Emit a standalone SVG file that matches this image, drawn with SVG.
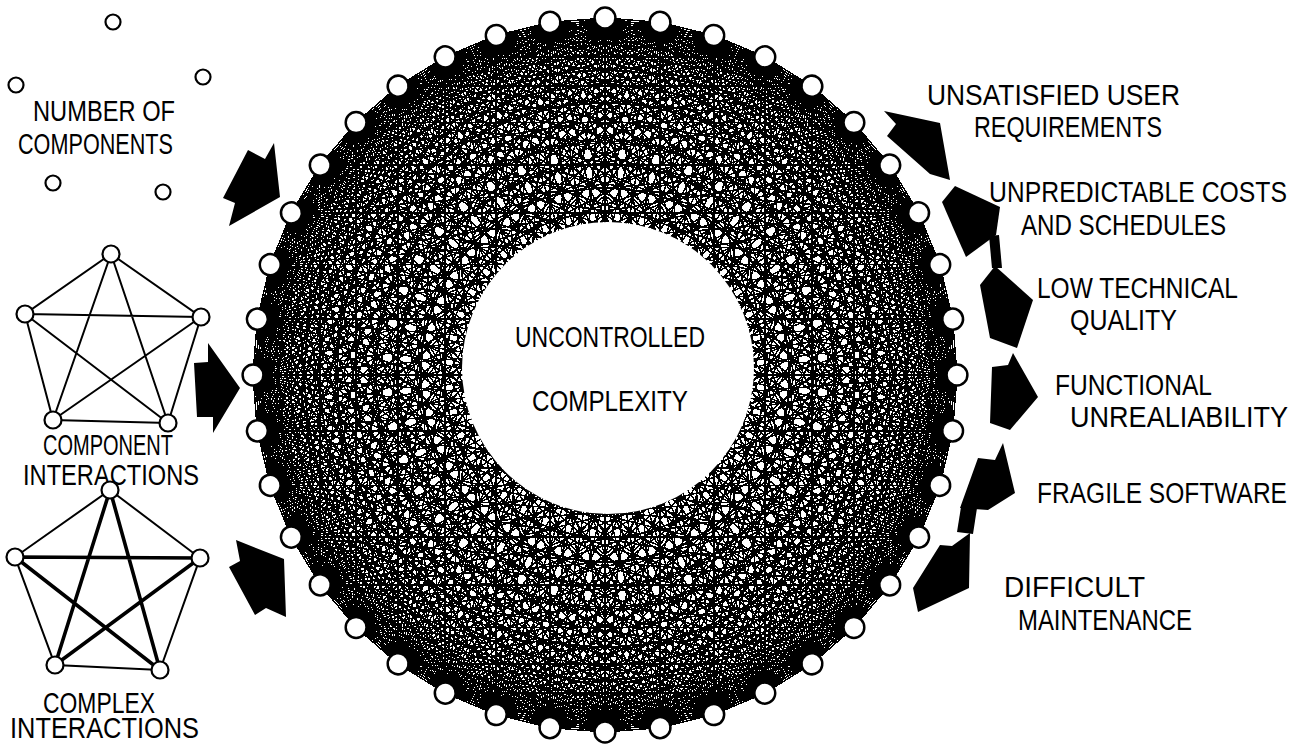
<svg xmlns="http://www.w3.org/2000/svg" width="1300" height="751" viewBox="0 0 1300 751">
<style>
.t{font-family:"Liberation Sans",Arial,sans-serif;font-size:24px;fill:#000}
.nd{fill:#fff;stroke:#000;stroke-width:2.2}
.rn{fill:#fff;stroke:#000;stroke-width:2.5}
.ed{stroke:#000;stroke-width:2;fill:none}
.edb{stroke:#000;stroke-width:3.6;fill:none}
.ar{fill:#000}
.mesh{stroke:#000;stroke-width:1.5;fill:none}
</style>
<defs>
<path id="fan" d="M0-355L55.5-350.6M0-355L109.7-337.6M0-355L161.2-316.3M0-355L208.7-287.2M0-355L251-251M0-355L287.2-208.7M0-355L316.3-161.2M0-355L337.6-109.7M0-355L350.6-55.5M0-355L355 0M0-355L350.6 55.5M0-355L337.6 109.7M0-355L316.3 161.2M0-355L287.2 208.7M0-355L251 251M0-355L208.7 287.2M0-355L161.2 316.3M0-355L109.7 337.6M0-355L55.5 350.6M0-355L0 355"/>
<circle id="rnode" cx="0" cy="-355" r="10.5"/>
</defs>
<rect width="1300" height="751" fill="#fff"/>

<g id="node-uncontrolled-complexity">
<g class="mesh" shape-rendering="crispEdges" transform="translate(605,375) scale(0.9915,1.0056)">
<use href="#fan"/><use href="#fan" transform="rotate(9)"/><use href="#fan" transform="rotate(18)"/><use href="#fan" transform="rotate(27)"/><use href="#fan" transform="rotate(36)"/><use href="#fan" transform="rotate(45)"/><use href="#fan" transform="rotate(54)"/><use href="#fan" transform="rotate(63)"/><use href="#fan" transform="rotate(72)"/><use href="#fan" transform="rotate(81)"/>
<use href="#fan" transform="rotate(90)"/><use href="#fan" transform="rotate(99)"/><use href="#fan" transform="rotate(108)"/><use href="#fan" transform="rotate(117)"/><use href="#fan" transform="rotate(126)"/><use href="#fan" transform="rotate(135)"/><use href="#fan" transform="rotate(144)"/><use href="#fan" transform="rotate(153)"/><use href="#fan" transform="rotate(162)"/><use href="#fan" transform="rotate(171)"/>
<use href="#fan" transform="rotate(180)"/><use href="#fan" transform="rotate(189)"/><use href="#fan" transform="rotate(198)"/><use href="#fan" transform="rotate(207)"/><use href="#fan" transform="rotate(216)"/><use href="#fan" transform="rotate(225)"/><use href="#fan" transform="rotate(234)"/><use href="#fan" transform="rotate(243)"/><use href="#fan" transform="rotate(252)"/><use href="#fan" transform="rotate(261)"/>
<use href="#fan" transform="rotate(270)"/><use href="#fan" transform="rotate(279)"/><use href="#fan" transform="rotate(288)"/><use href="#fan" transform="rotate(297)"/><use href="#fan" transform="rotate(306)"/><use href="#fan" transform="rotate(315)"/><use href="#fan" transform="rotate(324)"/><use href="#fan" transform="rotate(333)"/><use href="#fan" transform="rotate(342)"/><use href="#fan" transform="rotate(351)"/>
</g>
<circle cx="608" cy="368" r="146" fill="#fff"/>
<g class="rn" transform="translate(605,375) scale(0.9915,1.0056)">
<use href="#rnode"/><use href="#rnode" transform="rotate(9)"/><use href="#rnode" transform="rotate(18)"/><use href="#rnode" transform="rotate(27)"/><use href="#rnode" transform="rotate(36)"/><use href="#rnode" transform="rotate(45)"/><use href="#rnode" transform="rotate(54)"/><use href="#rnode" transform="rotate(63)"/><use href="#rnode" transform="rotate(72)"/><use href="#rnode" transform="rotate(81)"/>
<use href="#rnode" transform="rotate(90)"/><use href="#rnode" transform="rotate(99)"/><use href="#rnode" transform="rotate(108)"/><use href="#rnode" transform="rotate(117)"/><use href="#rnode" transform="rotate(126)"/><use href="#rnode" transform="rotate(135)"/><use href="#rnode" transform="rotate(144)"/><use href="#rnode" transform="rotate(153)"/><use href="#rnode" transform="rotate(162)"/><use href="#rnode" transform="rotate(171)"/>
<use href="#rnode" transform="rotate(180)"/><use href="#rnode" transform="rotate(189)"/><use href="#rnode" transform="rotate(198)"/><use href="#rnode" transform="rotate(207)"/><use href="#rnode" transform="rotate(216)"/><use href="#rnode" transform="rotate(225)"/><use href="#rnode" transform="rotate(234)"/><use href="#rnode" transform="rotate(243)"/><use href="#rnode" transform="rotate(252)"/><use href="#rnode" transform="rotate(261)"/>
<use href="#rnode" transform="rotate(270)"/><use href="#rnode" transform="rotate(279)"/><use href="#rnode" transform="rotate(288)"/><use href="#rnode" transform="rotate(297)"/><use href="#rnode" transform="rotate(306)"/><use href="#rnode" transform="rotate(315)"/><use href="#rnode" transform="rotate(324)"/><use href="#rnode" transform="rotate(333)"/><use href="#rnode" transform="rotate(342)"/><use href="#rnode" transform="rotate(351)"/>
</g>
<text class="t" transform="translate(515,347) scale(1,1.2)" textLength="190" lengthAdjust="spacingAndGlyphs">UNCONTROLLED</text>
<text class="t" transform="translate(532,411) scale(1,1.2)" textLength="156" lengthAdjust="spacingAndGlyphs">COMPLEXITY</text>
</g>

<g id="node-number-of-components">
<circle class="nd" cx="113" cy="22" r="7.5"/>
<circle class="nd" cx="203" cy="77" r="7.5"/>
<circle class="nd" cx="163" cy="192" r="7.5"/>
<circle class="nd" cx="53" cy="183" r="7.5"/>
<circle class="nd" cx="16" cy="85" r="7.5"/>
<text class="t" transform="translate(33,121) scale(1,1.25)" textLength="142" lengthAdjust="spacingAndGlyphs">NUMBER OF</text>
<text class="t" transform="translate(18,154) scale(1,1.25)" textLength="155" lengthAdjust="spacingAndGlyphs">COMPONENTS</text>
</g>

<g id="node-component-interactions">
<path class="ed" d="M111 254L201 317L168 423L53 420L25 314ZM111 254L168 423M111 254L53 420M201 317L53 420M201 317L25 314M168 423L25 314"/>
<circle class="nd" cx="111" cy="254" r="8.5"/>
<circle class="nd" cx="201" cy="317" r="8.5"/>
<circle class="nd" cx="168" cy="423" r="8.5"/>
<circle class="nd" cx="53" cy="420" r="8.5"/>
<circle class="nd" cx="25" cy="314" r="8.5"/>
<text class="t" transform="translate(43,455) scale(1,1.2)" textLength="130" lengthAdjust="spacingAndGlyphs">COMPONENT</text>
<text class="t" transform="translate(23,485) scale(1,1.2)" textLength="176" lengthAdjust="spacingAndGlyphs">INTERACTIONS</text>
</g>

<g id="node-complex-interactions">
<path class="ed" d="M110 490L200 558L160 670L55 665L15 557Z"/>
<path class="edb" d="M110 490L160 670M110 490L55 665M200 558L55 665M200 558L15 557M160 670L15 557"/>
<circle class="nd" cx="110" cy="490" r="8.5"/>
<circle class="nd" cx="200" cy="558" r="8.5"/>
<circle class="nd" cx="160" cy="670" r="8.5"/>
<circle class="nd" cx="55" cy="665" r="8.5"/>
<circle class="nd" cx="15" cy="557" r="8.5"/>
<text class="t" transform="translate(43,713) scale(1,1.2)" textLength="112" lengthAdjust="spacingAndGlyphs">COMPLEX</text>
<text class="t" transform="translate(10,738) scale(1,1.2)" textLength="189" lengthAdjust="spacingAndGlyphs">INTERACTIONS</text>
</g>

<g id="node-unsatisfied-requirements">
<text class="t" transform="translate(927,105) scale(1,1.2)" textLength="253" lengthAdjust="spacingAndGlyphs">UNSATISFIED USER</text>
<text class="t" transform="translate(974,137) scale(1,1.2)" textLength="188" lengthAdjust="spacingAndGlyphs">REQUIREMENTS</text>
</g>
<g id="node-unpredictable-costs">
<text class="t" transform="translate(989,202) scale(1,1.2)" textLength="298" lengthAdjust="spacingAndGlyphs">UNPREDICTABLE COSTS</text>
<text class="t" transform="translate(1021,235) scale(1,1.2)" textLength="205" lengthAdjust="spacingAndGlyphs">AND SCHEDULES</text>
</g>
<g id="node-low-quality">
<text class="t" transform="translate(1037,298) scale(1,1.2)" textLength="201" lengthAdjust="spacingAndGlyphs">LOW TECHNICAL</text>
<text class="t" transform="translate(1070,330) scale(1,1.2)" textLength="107" lengthAdjust="spacingAndGlyphs">QUALITY</text>
</g>
<g id="node-functional-unreliability">
<text class="t" transform="translate(1055,395) scale(1,1.2)" textLength="157" lengthAdjust="spacingAndGlyphs">FUNCTIONAL</text>
<text class="t" transform="translate(1070,427) scale(1,1.2)" textLength="218" lengthAdjust="spacingAndGlyphs">UNREALIABILITY</text>
</g>
<g id="node-fragile-software">
<text class="t" transform="translate(1037,503) scale(1,1.2)" textLength="250" lengthAdjust="spacingAndGlyphs">FRAGILE SOFTWARE</text>
</g>
<g id="node-difficult-maintenance">
<text class="t" transform="translate(1004,597) scale(1,1.2)" textLength="141" lengthAdjust="spacingAndGlyphs">DIFFICULT</text>
<text class="t" transform="translate(1018,630) scale(1,1.2)" textLength="174" lengthAdjust="spacingAndGlyphs">MAINTENANCE</text>
</g>

<g id="connectors" class="ar">
<polygon points="248,150 265,159 274,143 280,197 229,226 235,203 223,198"/>
<polygon points="194,363 208,362 208,343 240,388 213,433 213,417 197,417"/>
<polygon points="229,567 240,561 236,540 284,559 286,617 266,608 255,615"/>
<polygon points="884,111 940,123 950,180 930,174 887,136 896,124"/>
<polygon points="942,202 955,186 1000,207 996,235 966,257 955,232"/>
<polygon points="989,236 999,235 1002,268 992,268"/>
<polygon points="980,285 995,266 1033,300 1017,348 990,338"/>
<polygon points="992,367 1008,365 1013,353 1038,397 1010,430 990,423"/>
<polygon points="978,458 995,460 1003,443 1015,493 988,510 960,508"/>
<polygon points="961,507 977,508 973,534 957,532"/>
<polygon points="913,588 940,545 952,546 970,533 969,588 918,612"/>
</g>
</svg>
